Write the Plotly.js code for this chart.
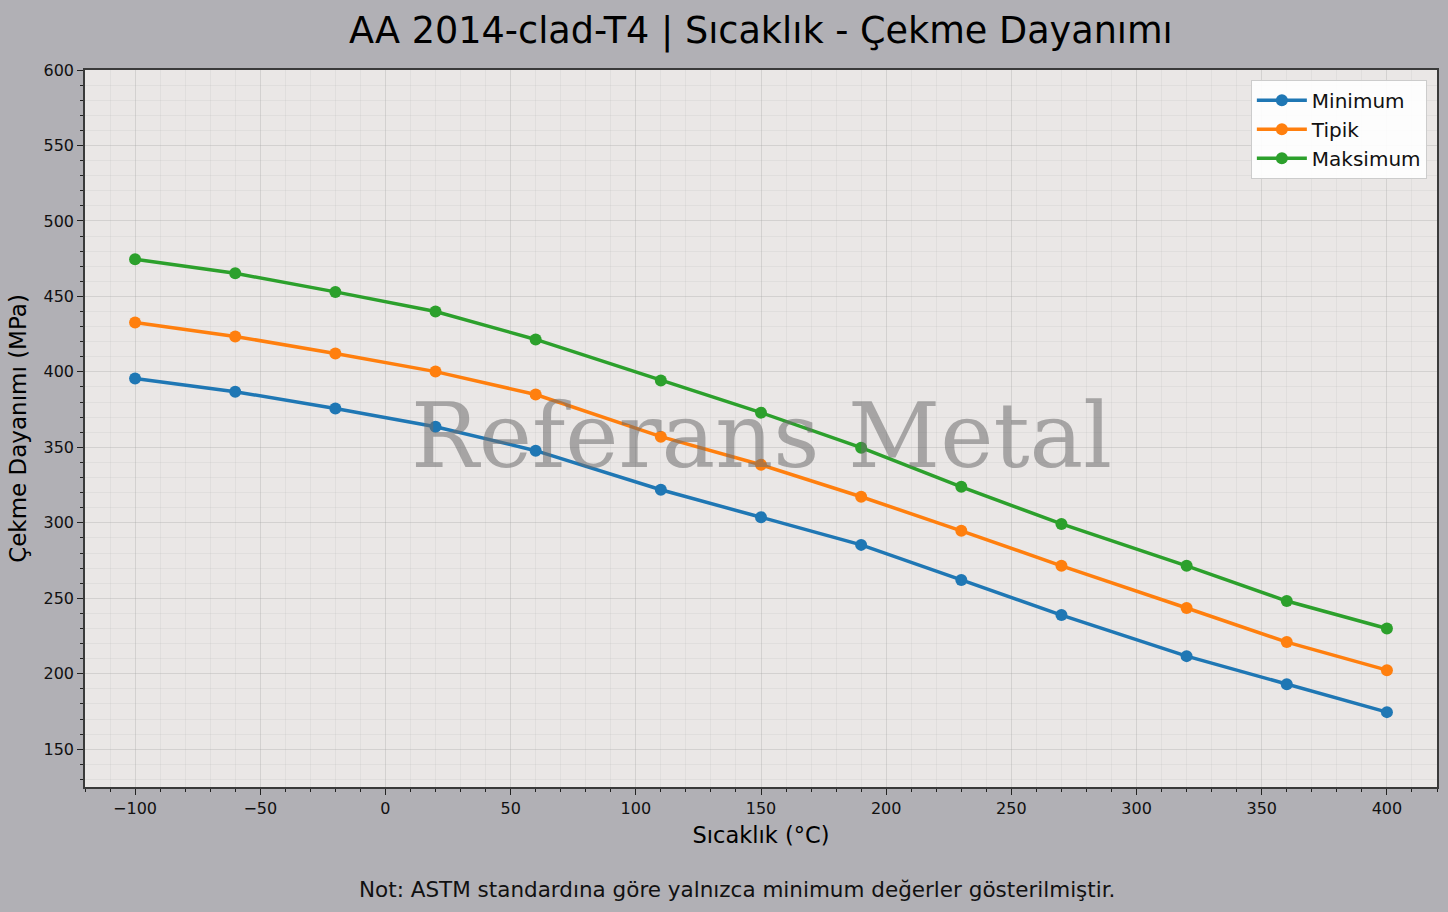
<!DOCTYPE html>
<html>
<head>
<meta charset="utf-8">
<script src="https://cdn.plot.ly/plotly-3.0.1.min.js"></script>
<style>
  html, body { margin: 0; padding: 0; background: #b1b0b5; }
  #grafik { width: 1448px; height: 912px; }
</style>
</head>
<body>
<div id="grafik"></div>
<script>
// Sıcaklık noktaları (°C)
const sicaklik = [-100, -60, -20, 20, 60, 110, 150, 190, 230, 270, 320, 360, 400];

// Çekme dayanımı (MPa)
const minimum = [395.6, 386.9, 375.7, 363.7, 347.8, 321.9, 303.7, 285.4, 262.2, 238.9, 211.7, 193.1, 174.6];
const tipik = [432.7, 423.5, 412.2, 400.2, 385.0, 357.1, 338.5, 317.3, 294.7, 271.5, 243.6, 221.0, 202.4];
const maksimum = [474.6, 465.3, 453.0, 440.0, 421.5, 394.3, 373.0, 349.8, 323.9, 299.3, 271.5, 248.2, 230.0];

const seriler = [
    { ad: 'Minimum', y: minimum, renk: '#1f77b4' },
    { ad: 'Tipik', y: tipik, renk: '#ff7f0e' },
    { ad: 'Maksimum', y: maksimum, renk: '#2ca02c' }
];

const FONT = 'DejaVu Sans, sans-serif';

const izler = seriler.map(s => ({
    x: sicaklik,
    y: s.y,
    name: s.ad,
    type: 'scatter',
    mode: 'lines+markers',
    line: { color: s.renk, width: 3.5 },
    marker: { color: s.renk, size: 12 }
}));

const eksenOrtak = {
    showline: true, linecolor: '#3a3a3a', linewidth: 1.5, mirror: true,
    ticks: 'outside', ticklen: 6, tickwidth: 1.2, tickcolor: '#222',
    tickfont: { family: FONT, size: 16, color: '#111' },
    showgrid: true, gridcolor: 'rgba(160,160,160,0.3)', gridwidth: 1.3,
    zeroline: false,
    minor: {
        ticks: 'outside', ticklen: 3.5, tickcolor: '#222', tickwidth: 1,
        dtick: 10, showgrid: true, gridcolor: 'rgba(160,160,160,0.13)', gridwidth: 0.8
    }
};

Plotly.newPlot('grafik', izler, {
    width: 1448, height: 912,
    paper_bgcolor: '#b1b0b5',
    plot_bgcolor: '#eae7e6',
    margin: { t: 70, b: 125, l: 85, r: 11 },
    title: {
        text: 'AA 2014-clad-T4 | Sıcaklık - Çekme Dayanımı',
        font: { family: FONT, size: 36.6, color: '#000' },
        x: 0.5255, xanchor: 'center', y: 0.967, yanchor: 'middle'
    },
    xaxis: Object.assign({}, eksenOrtak, {
        range: [-120, 420], dtick: 50, tick0: 0,
        title: { text: 'Sıcaklık (°C)', font: { family: FONT, size: 22.5, color: '#000' }, standoff: 10 }
    }),
    yaxis: Object.assign({}, eksenOrtak, {
        range: [125, 600], dtick: 50, tick0: 0,
        title: { text: 'Çekme Dayanımı (MPa)', font: { family: FONT, size: 23, color: '#000' }, standoff: 10 }
    }),
    legend: {
        x: 0.9925, xanchor: 'right', y: 0.9865, yanchor: 'top',
        bgcolor: 'rgba(255,255,255,0.9)', bordercolor: '#cccccc', borderwidth: 1,
        font: { family: FONT, size: 20, color: '#111' },
        itemwidth: 50, tracegroupgap: 0
    },
    annotations: [
        {
            text: 'Referans Metal', xref: 'paper', yref: 'paper', x: 0.5, y: 0.49,
            xanchor: 'center', yanchor: 'middle', showarrow: false,
            font: { family: 'DejaVu Serif, serif', size: 90, color: 'rgba(110,110,110,0.55)' }
        },
        {
            text: 'Not: ASTM standardına göre yalnızca minimum değerler gösterilmiştir.',
            xref: 'paper', yref: 'paper', x: 0.4825, y: -0.143,
            xanchor: 'center', yanchor: 'middle', showarrow: false,
            font: { family: FONT, size: 21.5, color: '#111' }
        }
    ],
    showlegend: true
}, { displayModeBar: false });
</script>
</body>
</html>
